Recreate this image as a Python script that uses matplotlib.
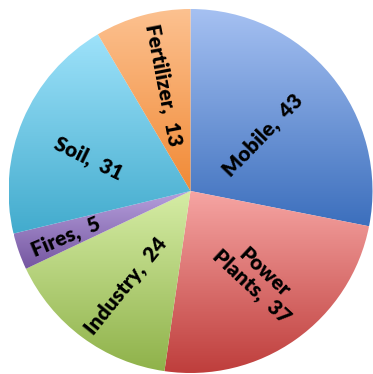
import numpy as np
import matplotlib.pyplot as plt
from matplotlib.colors import LinearSegmentedColormap

# Emission sources, clockwise from 12 o'clock
sources = ['Mobile', 'Power\nPlants', 'Industry', 'Fires', 'Soil', 'Fertilizer']
values = [43, 37, 24, 5, 31, 13]

# gradient colours per slice (top, bottom)
top_colors = ['#a6c1f2', '#f6a5a3', '#d6eda6', '#b59fdc', '#9ee2fa', '#fcc190']
bottom_colors = ['#3c6fbd', '#bd3b39', '#8fb24a', '#7556a0', '#42abcd', '#f18a36']

# label placement: angle (deg) and radius fraction, plus text rotation
label_angle = [37.7, -52.8, -124.6, -159.9, 162.2, 104.5]
label_radius = [0.50, 0.61, 0.63, 0.73, 0.59, 0.60]
label_rotation = [46, -43, 51, 23, -26, -79]

plt.rcParams['font.family'] = ['Lato', 'DejaVu Sans']

fig = plt.figure(figsize=(3.73, 3.74), dpi=100)
R = 182
cx, cy = 190.5, 374 - 191
ax = fig.add_axes([(cx - R) / 373, (cy - R) / 374, 2 * R / 373, 2 * R / 374])

wedges, _ = ax.pie(values, startangle=90, counterclock=False, radius=1,
                   wedgeprops=dict(linewidth=0))

for w, c0, c1 in zip(wedges, top_colors, bottom_colors):
    w.set_facecolor('none')
    # vertical gradient filling the slice's bounding box
    verts = w.get_path().vertices
    x0, x1 = verts[:, 0].min(), verts[:, 0].max()
    y0, y1 = verts[:, 1].min(), verts[:, 1].max()
    cmap = LinearSegmentedColormap.from_list('g', [c1, c0])
    grad = np.linspace(0, 1, 256).reshape(-1, 1)
    im = ax.imshow(grad, cmap=cmap, extent=[x0, x1, y0, y1], origin='lower',
                   aspect='auto', interpolation='bilinear', zorder=1)
    im.set_clip_path(w)

for name, v, a, r, rot in zip(sources, values, label_angle, label_radius, label_rotation):
    t = np.deg2rad(a)
    ax.text(r * np.cos(t), r * np.sin(t), f'{name},  {v}', rotation=rot,
            ha='center', va='center', rotation_mode='anchor',
            fontsize=15, fontweight='heavy', color='black', zorder=3,
            linespacing=1.0)

ax.set_xlim(-1, 1)
ax.set_ylim(-1, 1)
ax.set_aspect('equal')
ax.axis('off')

fig.savefig('out.png', dpi=100)
